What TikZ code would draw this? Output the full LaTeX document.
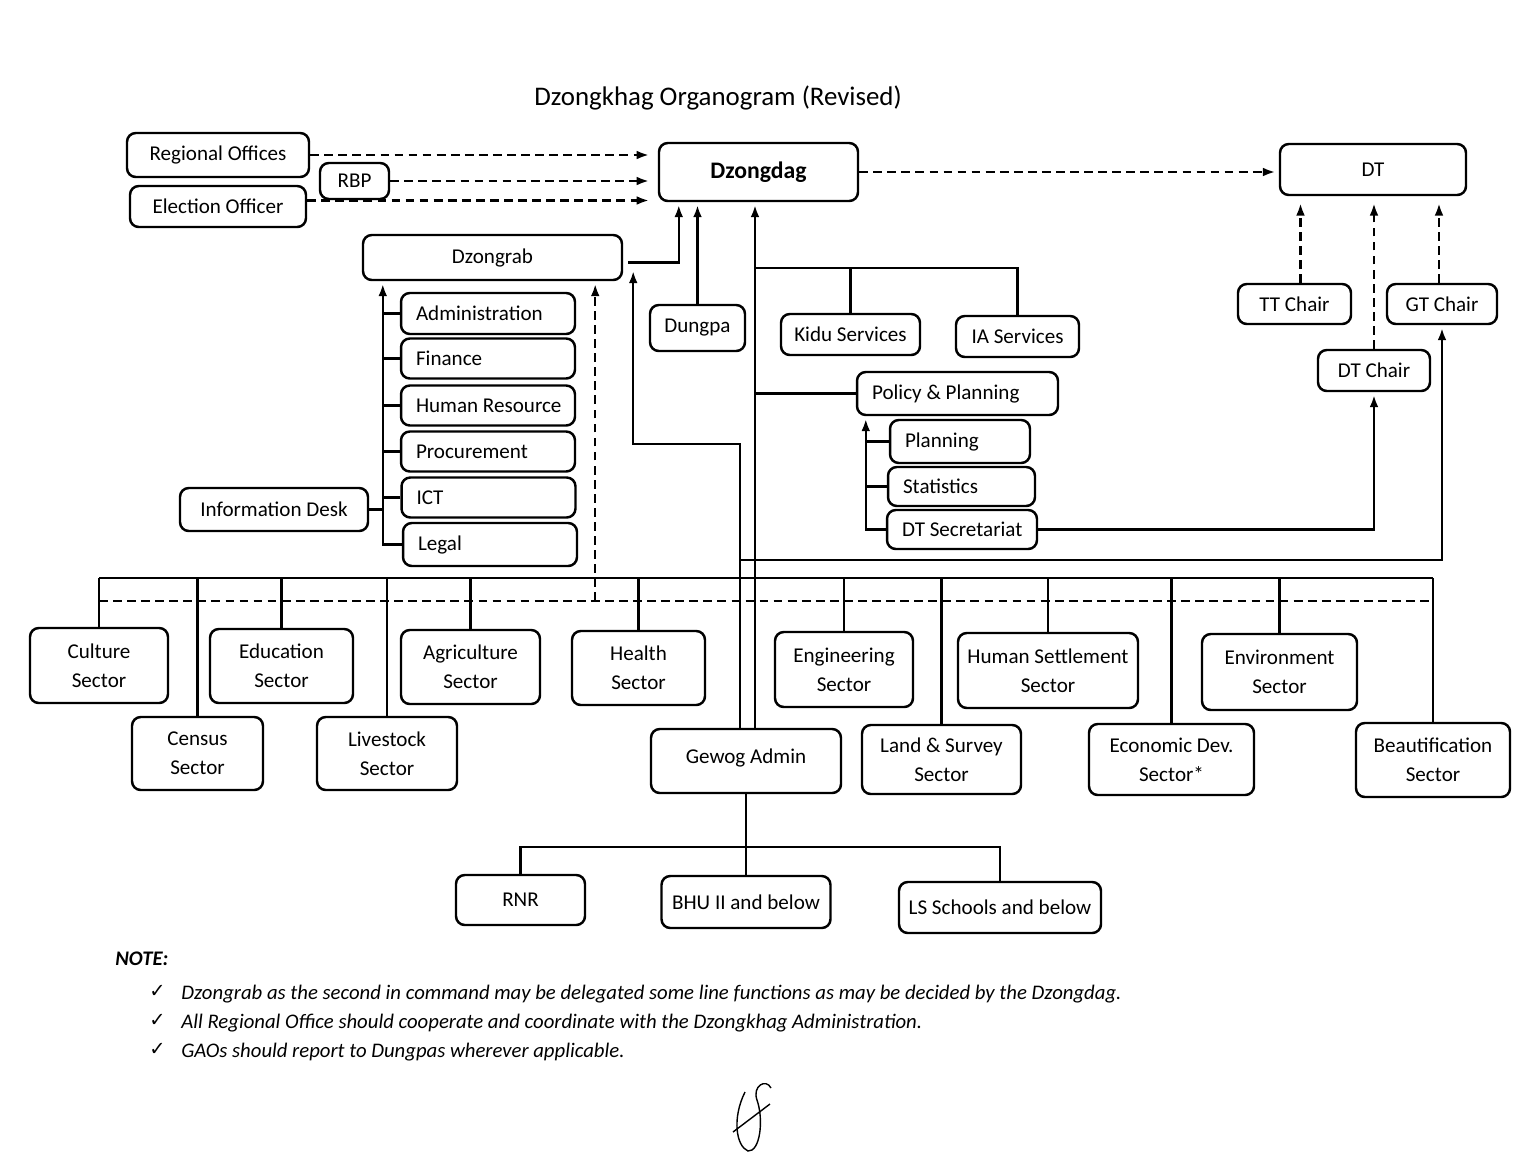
\documentclass[tikz,border=0pt]{standalone}
\usepackage{fontspec}
\setmainfont{Carlito}
\newfontfamily\symfont{DejaVu Sans}
\usetikzlibrary{calc,arrows.meta}
\newcommand{\pxunit}{0.02cm}
\newcommand{\boxfont}{\fontsize{12}{16.5}\selectfont}
\newcommand{\bossfont}{\fontsize{13.5}{16}\selectfont\bfseries}
\tikzset{box/.style 2 args={draw,rounded corners=5pt,line width=1.4pt,align=center,inner sep=1pt,minimum width=#1*\pxunit,minimum height=#2*\pxunit,font=\boxfont}}
\tikzset{listbox/.style 2 args={draw,rounded corners=5pt,line width=1.4pt,align=flush left,inner xsep=0.3cm,inner ysep=1pt,text width=#1,minimum height=#2*\pxunit,font=\boxfont}}
\tikzset{link/.style={line width=1.4pt},arr/.style={link,-{Latex[length=7pt,width=5pt]},shorten >=1.5pt}}
\tikzset{dashline/.style={link,dash pattern=on 5pt off 3pt},duty/.style={dashline,-{Latex[length=7pt,width=5pt]},shorten >=#1},duty/.default=4pt}
\tikzset{note/.style={font=\fontsize{11.8}{14}\selectfont\itshape,inner sep=0pt}}

\begin{document}
\begin{tikzpicture}[x=\pxunit,y=-\pxunit]
	\useasboundingbox (0,0) rectangle (1536,1154);

	% title
	\node[font=\fontsize{15.3}{18}\selectfont] (title) at (718,98) {Dzongkhag Organogram (Revised)};

	% top row
	\node[box={182}{44}] (regional) at (218,155) {Regional Offices};
	\node[box={176}{41}] (election) at (218,206.5) {Election Officer};
	\node[box={69}{36}] (rbp) at (354.5,181) {RBP};
	\node[box={199}{58},font=\bossfont] (dzongdag) at (758.5,172) {Dzongdag};
	\node[box={186}{51}] (dt) at (1373,169.5) {DT};

	\draw[duty=5pt] (regional.east) -- (regional.east -| dzongdag.west);
	\draw[duty=5pt] (rbp.east) -- (rbp.east -| dzongdag.west);
	\draw[duty=5pt] ($(election.east)+(0,-6)$) -- ($(election.east -| dzongdag.west)+(0,-6)$);
	\draw[duty=2pt] (dzongdag.east) -- (dzongdag.east -| dt.west);

	% Dzongrab and its units
	\node[box={259}{45}] (dzongrab) at (492.5,257.5) {Dzongrab};
	\node[listbox={2.88cm}{41}] (admin) at (488,313.5) {\mbox{Administration}};
	\node[listbox={2.88cm}{40}] (finance) at (488,358.5) {Finance};
	\node[listbox={2.88cm}{40}] (hr) at (488,405.5) {\mbox{Human Resource}};
	\node[listbox={2.88cm}{40}] (procure) at (488,451.5) {Procurement};
	\node[listbox={2.88cm}{40}] (ict) at (488.5,497.5) {ICT};
	\node[listbox={2.88cm}{43}] (legal) at (490,544.5) {Legal};
	\node[box={188}{43}] (infodesk) at (274,509.5) {Information Desk};

	\coordinate (adminspine) at ($(dzongrab.south west)+(21,0)$);
	\draw[arr] (legal.west) -| (adminspine);
	\foreach \n in {admin,finance,hr,procure,ict}
		\draw[link] (\n.west) -- (\n.west -| adminspine);
	\draw[link] (infodesk.east) -- (infodesk.east -| adminspine);
	\draw[arr] ($(dzongrab.east)+(5,5)$) -| ($(dzongdag.south west)+(21,0)$);

	% Dzongdag office
	\node[box={95}{46}] (dungpa) at (697.5,328) {Dungpa};
	\node[box={139}{41}] (kidu) at (850.5,334.5) {Kidu Services};
	\node[box={123}{41}] (ia) at (1017.5,336.5) {IA Services};
	\node[listbox={3.42cm}{43}] (policy) at (957.5,393.5) {Policy \& Planning};
	\node[listbox={2.2cm}{43}] (planning) at (960,441.5) {Planning};
	\node[listbox={2.34cm}{39}] (stats) at (961.5,486.5) {Statistics};
	\node[listbox={2.4cm}{39}] (dtsec) at (962,529.5) {\mbox{DT Secretariat}};

	\draw[arr] (dungpa.north) -- (dungpa.north |- dzongdag.south);

	% DT side
	\node[box={113}{40}] (ttchair) at (1294.5,304) {TT Chair};
	\node[box={110}{40}] (gtchair) at (1442,304) {GT Chair};
	\node[box={112}{41}] (dtchair) at (1374,370.5) {DT Chair};

	\coordinate (ttfoot) at ($(ttchair.north)+(6,0)$);
	\draw[duty] (ttfoot) -- (ttfoot |- dt.south);
	\draw[duty] (dtchair.north) -- (dtchair.north |- dt.south);
	\draw[duty] ($(gtchair.north)+(-3,0)$) -- ($(gtchair.north |- dt.south)+(-3,0)$);

	% sectors
	\node[box={138}{75}] (culture) at (99,665.5) {Culture\\Sector};
	\node[box={143}{74}] (education) at (281.5,666) {Education\\Sector};
	\node[box={139}{74}] (agri) at (470.5,667) {Agriculture\\Sector};
	\node[box={133}{74}] (health) at (638.5,668) {Health\\Sector};
	\node[box={138}{75}] (engg) at (844,669.5) {Engineering\\Sector};
	\node[box={180}{75}] (humanset) at (1048,670.5) {Human Settlement\\Sector};
	\node[box={155}{76}] (env) at (1279.5,672) {Environment\\Sector};
	\node[box={131}{73}] (census) at (197.5,753.5) {Census\\Sector};
	\node[box={140}{73}] (livestock) at (387,753.5) {Livestock\\Sector};
	\node[box={190}{64}] (gewog) at (746,761) {\raisebox{0.18cm}{Gewog Admin}};
	\node[box={159}{69}] (landsurvey) at (941.5,759.5) {Land \& Survey\\Sector};
	\node[box={165}{71}] (econ) at (1171.5,759.5) {Economic Dev.\\Sector*};
	\node[box={154}{74}] (beaut) at (1433,760) {Beautification\\Sector};

	\coordinate (busleft) at (99,578);
	\coordinate (busright) at (1433,578);
	\draw[link] (busleft) -- (busright);
	\foreach \s in {culture,census,education,livestock,agri,health,engg,landsurvey,humanset,econ,env,beaut}
		\draw[link] (\s.north |- busleft) -- (\s.north);
	\coordinate (dashleft) at (99,601);
	\coordinate (dashright) at (1433,601);
	\draw[dashline] (dashleft) -- (dashright);
	\draw[duty=1.5pt] ($(dashleft -| dzongrab.south east)+(-28,0)$) -- ($(dzongrab.south east)+(-28,0)$);

	% spine from Gewog Admin
	\coordinate (spinefoot) at ($(gewog.north)+(9,0)$);
	\coordinate (svcjoint) at (755,268);
	\draw[arr] (spinefoot) -- (spinefoot |- dzongdag.south);
	\draw[link] (svcjoint) -| (ia.north);
	\draw[link] (kidu.north) -- (kidu.north |- svcjoint);
	\draw[link] (svcjoint |- policy.west) -- (policy.west);

	\coordinate (ppspine) at ($(policy.south west)+(10,0)$);
	\draw[arr] (dtsec.west) -| (ppspine);
	\foreach \n in {planning,stats}
		\draw[link] (\n.west) -- (\n.west -| ppspine);
	\draw[arr] (dtsec.east) -| (dtchair.south);

	\coordinate (gewogleg) at ($(gewog.north)+(-6,0)$);
	\coordinate (chairjoint) at (740,560);
	\draw[arr] (gewogleg) |- ($(dzongrab.south east)+(10,163)$) -- ($(dzongrab.south east)+(10,-13)$);
	\draw[arr] (chairjoint) -| (gtchair.south);

	% Gewog level
	\node[box={129}{50}] (rnr) at (520.5,900) {RNR};
	\node[box={169}{52}] (bhu) at (746,902) {BHU II and below};
	\node[box={202}{51}] (lsschool) at (1000,907.5) {LS Schools and below};

	\draw[link] (gewog.south) -- ++(0,53) coordinate (fieldjoint);
	\draw[link] (rnr.north) |- (fieldjoint) -| (lsschool.north);
	\draw[link] (fieldjoint) -- (bhu.north);

	% notes
	\node[note,anchor=base west] (notehead) at (115,965) {\bfseries NOTE:};
	\foreach \i/\y/\txt in {one/999/Dzongrab as the second in command may be delegated some line functions as may be decided by the Dzongdag.,
		two/1028/All Regional Office should cooperate and coordinate with the Dzongkhag Administration.,
		three/1057/GAOs should report to Dungpas wherever applicable.}
	{
		\node[inner sep=0pt,anchor=base west,font=\fontsize{11}{13}\selectfont\symfont] (tick\i) at (149,\y-2) {✓};
		\node[note,anchor=base west] (note\i) at (181,\y) {\txt};
	}

	% signature
	\draw[line width=0.8pt] (745,1092) .. controls (732,1118) and (736,1146) .. (748,1151)
		.. controls (760,1152) and (764,1120) .. (757,1100) .. controls (752,1086) and (766,1078) .. (771,1088);
	\draw[line width=0.8pt] (733,1132) -- (770,1104);
\end{tikzpicture}
\end{document}
